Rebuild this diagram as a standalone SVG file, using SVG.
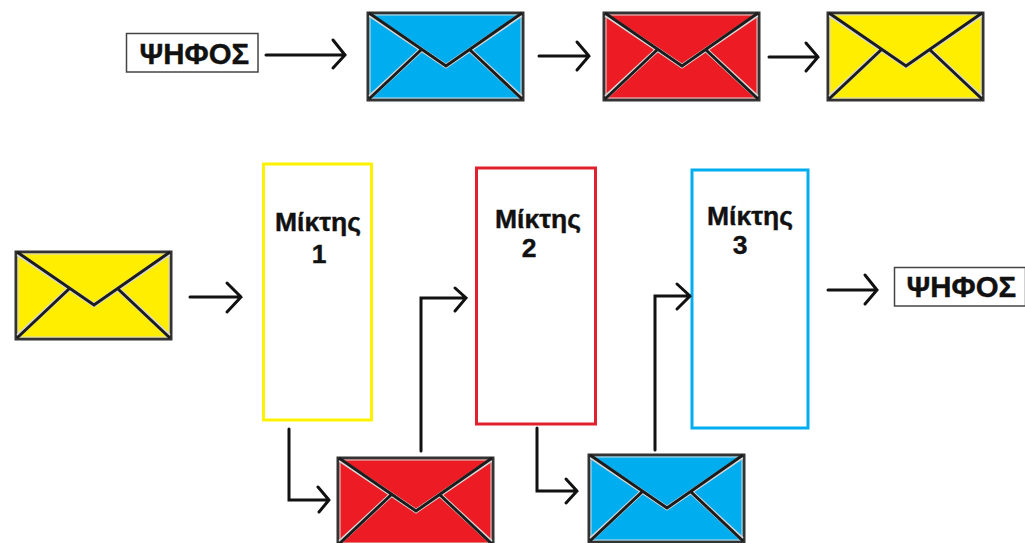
<svg xmlns="http://www.w3.org/2000/svg" width="1025" height="543" viewBox="0 0 1025 543">
<style>
.bg{fill:#fff}
.env-r{stroke:#333;stroke-width:3;stroke-linejoin:miter}
.flap{fill:none;stroke:#1c1c1c;stroke-width:3}
.halo{fill:none;stroke:#d8d8d8;stroke-width:4.500}
.inner{fill:none;stroke:#d8d8d8;stroke-width:1}
.blue{fill:#00aeef}.red{fill:#ed1c24}.yellow{fill:#ffee00}
.mixer{fill:#fff;stroke-width:3}
.vote{fill:#fff;stroke:#444;stroke-width:1.500}
text{font-family:"Liberation Sans",Arial,sans-serif;font-weight:bold;fill:#111;stroke:#111;stroke-width:.4}
.vt{font-size:29.400px}
.mt{font-size:26.500px;text-anchor:middle}
.conn path{fill:none;stroke:#111;stroke-width:3;stroke-linecap:round;stroke-linejoin:miter}
</style>
<defs>
<g id="env-lines">
<rect class="inner" x="3" y="3" width="151" height="83"/>
<path class="halo" d="M3 3L79 54L154 3M3 85L55 37M102 37L154 85"/>
<path class="flap" d="M2 1L79 54L155 1M2 87L55 37M102 37L155 87"/>
</g>
</defs>
<rect class="bg" width="1025" height="543"/>
<g id="vote-top"><rect class="vote" x="126.500" y="33.500" width="131.500" height="38.500"/><text class="vt" x="139.500" y="64">ΨΗΦΟΣ</text></g>
<g id="env-blue-top" transform="translate(367 12)"><rect class="env-r blue" x="1" y="1" width="155" height="87"/><use href="#env-lines"/></g>
<g id="env-red-top" transform="translate(603 12)"><rect class="env-r red" x="1" y="1" width="155" height="87"/><use href="#env-lines"/></g>
<g id="env-yellow-top" transform="translate(827 12)"><rect class="env-r yellow" x="1" y="1" width="155" height="87"/><use href="#env-lines"/></g>
<g id="env-yellow-left" transform="translate(15 251)"><rect class="env-r yellow" x="1" y="1" width="155" height="87"/><use href="#env-lines"/></g>
<g id="mixer-1"><rect class="mixer" x="263.500" y="164" width="108" height="256" stroke="#fff200"/><text class="mt" x="318" y="231">Μίκτης</text><text class="mt" x="319" y="263">1</text></g>
<g id="mixer-2"><rect class="mixer" x="476.500" y="168" width="119" height="256" stroke="#e0202c"/><text class="mt" x="538" y="228">Μίκτης</text><text class="mt" x="529" y="257">2</text></g>
<g id="mixer-3"><rect class="mixer" x="692" y="170" width="116" height="258" stroke="#00aeef"/><text class="mt" x="750" y="225">Μίκτης</text><text class="mt" x="740" y="254">3</text></g>
<g id="env-red-bottom" transform="translate(337 457)"><rect class="env-r red" x="1" y="1" width="155" height="87"/><use href="#env-lines"/></g>
<g id="env-blue-bottom" transform="translate(588 454)"><rect class="env-r blue" x="1" y="1" width="155" height="87"/><use href="#env-lines"/></g>
<g id="vote-right"><rect class="vote" x="894.500" y="267.500" width="131" height="38.500"/><text class="vt" x="906.500" y="297">ΨΗΦΟΣ</text></g>
<g id="connectors" class="conn">
<path d="M266 55H345M333 40L345 55L333 68"/>
<path d="M539 56H589M577 42L589 56L577 70"/>
<path d="M769 57H818M806 43L818 57L806 71"/>
<path d="M190 297H241M227 283L241 297L227 312"/>
<path d="M828 290H877M865 275L877 290L865 304"/>
<path d="M289 429V500H329M318 487L329 500L319 512"/>
<path d="M421 451V298H466M455 288L466 298L455 311"/>
<path d="M537 428V491H577M566 479L577 491L566 503"/>
<path d="M655 450V296H690M677 284L690 296L677 309"/>
</g>
</svg>
